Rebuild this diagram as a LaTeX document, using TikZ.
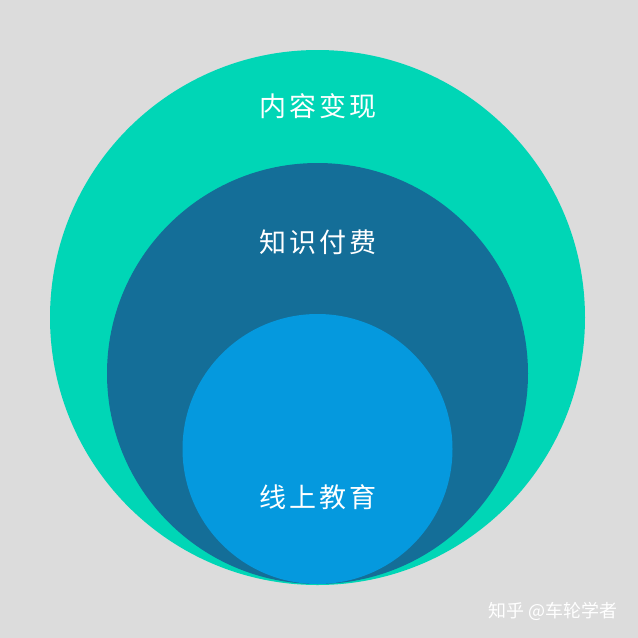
\documentclass[tikz,border=0pt]{standalone}
\usepackage{fontspec}
\newfontfamily\cjk[LetterSpace=10]{Noto Sans CJK SC}
\newfontfamily\cjkmark{Noto Sans CJK SC}
\usepackage{xcolor}
\definecolor{colorBack}{HTML}{DCDCDC}
\definecolor{colorOuter}{HTML}{00D6B6}
\definecolor{colorMiddle}{HTML}{146E98}
\definecolor{colorInner}{HTML}{0599DE}
\usepackage{tikz}
\usetikzlibrary{positioning}
\tikzset{layer/.style={circle, inner sep=0pt, draw=none}}
\begin{document}
\begin{tikzpicture}[x=1pt, y=-1pt, every node/.style={text=white}, label text/.style={font=\cjk\fontsize{27}{30}\selectfont}]
\fill[colorBack] (0,0) rectangle (638,638);
\useasboundingbox (0,0) rectangle (638,638);
\node[layer, fill=colorOuter, minimum size=535pt] (c1) at (317.5,317.5) {};
\node[layer, fill=colorMiddle, minimum size=421pt] (c2) at (317.5,373.5) {};
\node[layer, fill=colorInner, minimum size=270pt] (c3) at (317.5,449) {};
\node[label text] (t1) at (318,106) {内容变现};
\node[label text] (t2) at (318,242) {知识付费};
\node[label text] (t3) at (318,497) {线上教育};
\node[font=\cjkmark\fontsize{18}{20}\selectfont, text=white] (mark) at (553,611) {知乎 @车轮学者};
\end{tikzpicture}
\end{document}
